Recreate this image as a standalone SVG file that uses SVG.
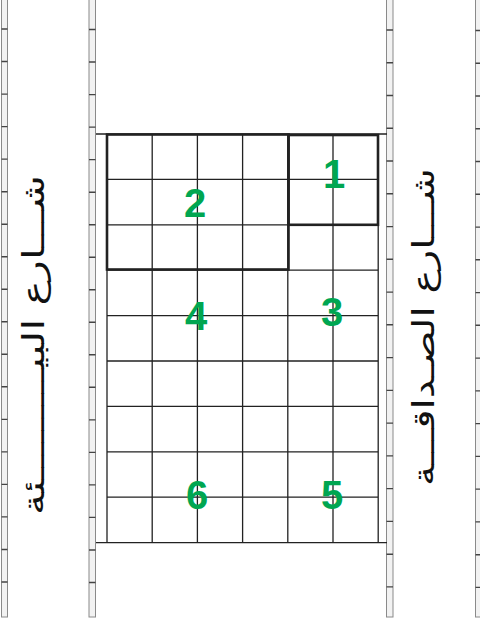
<svg xmlns="http://www.w3.org/2000/svg" width="480" height="620" viewBox="0 0 480 620">
<style>
.strip{fill:#f2f2f2;stroke:#8a8a8a;stroke-width:1}
.tick{stroke:#444;stroke-width:1.4}
.grid{stroke:#222;stroke-width:1.3;fill:none}
.block{fill:none;stroke:#222;stroke-width:2.6}
.num{font-family:"Liberation Sans",Arial,sans-serif;font-weight:bold;font-size:40px;fill:#00a651;text-anchor:middle}
.street{font-family:"DejaVu Sans",sans-serif;font-size:30px;fill:#111;text-anchor:middle}
</style>
<rect width="480" height="620" fill="#fff"/>
<g id="curbs">
<rect class="strip" x="1.5" y="-1" width="6" height="618"/>
<rect class="strip" x="89" y="-1" width="6.5" height="618"/>
<rect class="strip" x="386.5" y="-1" width="6.5" height="618"/>
<rect class="strip" x="475.5" y="-1" width="6" height="618"/>
<path class="tick" d="M1.5 29H7.5M1.5 61.5H7.5M1.5 94.1H7.5M1.5 126.6H7.5M1.5 159.1H7.5M1.5 191.7H7.5M1.5 224.2H7.5M1.5 256.7H7.5M1.5 289.2H7.5M1.5 321.8H7.5M1.5 354.3H7.5M1.5 386.8H7.5M1.5 419.4H7.5M1.5 451.9H7.5M1.5 484.4H7.5M1.5 516.9H7.5M1.5 549.5H7.5M1.5 582H7.5"/>
<path class="tick" d="M89 29.5H95.5M89 62H95.5M89 94.6H95.5M89 127.1H95.5M89 159.6H95.5M89 192.2H95.5M89 224.7H95.5M89 257.2H95.5M89 289.7H95.5M89 322.3H95.5M89 354.8H95.5M89 387.3H95.5M89 419.9H95.5M89 452.4H95.5M89 484.9H95.5M89 517.4H95.5M89 550H95.5M89 582.5H95.5"/>
<path class="tick" d="M386.5 30H393M386.5 62.8H393M386.5 95.5H393M386.5 128.3H393M386.5 161H393M386.5 193.8H393M386.5 226.6H393M386.5 259.3H393M386.5 292.1H393M386.5 324.8H393M386.5 357.6H393M386.5 390.4H393M386.5 423.1H393M386.5 455.9H393M386.5 488.6H393M386.5 521.4H393M386.5 554.2H393M386.5 586.9H393"/>
<path class="tick" d="M475.5 30.5H481M475.5 63.3H481M475.5 96H481M475.5 128.8H481M475.5 161.5H481M475.5 194.3H481M475.5 227.1H481M475.5 259.8H481M475.5 292.6H481M475.5 325.3H481M475.5 358.1H481M475.5 390.9H481M475.5 423.6H481M475.5 456.4H481M475.5 489.1H481M475.5 521.9H481M475.5 554.7H481M475.5 587.4H481"/>
</g>
<g id="grid">
<path class="grid" d="M96 134H387M96 542.6H387M107 179.4H378M107 224.8H378M107 270.2H378M107 315.6H378M107 361H378M107 406.4H378M107 451.8H378M107 497.2H378"/>
<path class="grid" d="M107 134V542.6M152.2 134V542.6M197.4 134V542.6M242.6 134V542.6M287.8 134V542.6M333 134V542.6M378.2 134V542.6"/>
</g>
<g id="block-1">
<rect class="block" x="288.5" y="135" width="89.5" height="89.8"/>
<text class="num" x="334" y="188">1</text>
</g>
<g id="block-2">
<rect class="block" x="107" y="134.5" width="181.5" height="135"/>
<text class="num" x="195" y="217">2</text>
</g>
<g id="block-3"><text class="num" x="332" y="326">3</text></g>
<g id="block-4"><text class="num" x="196" y="330">4</text></g>
<g id="block-5"><text class="num" x="332" y="509">5</text></g>
<g id="block-6"><text class="num" x="197" y="509">6</text></g>
<g id="street-left">
<text class="street" transform="translate(44 345) rotate(-90)" direction="rtl" textLength="340" lengthAdjust="spacingAndGlyphs">شـــارع البيـــــــــئة</text>
</g>
<g id="street-right">
<text class="street" transform="translate(434 327) rotate(-90)" direction="rtl" textLength="318" lengthAdjust="spacingAndGlyphs">شـــارع الصـداقـــة</text>
</g>
<g id="connectors"></g>
</svg>
